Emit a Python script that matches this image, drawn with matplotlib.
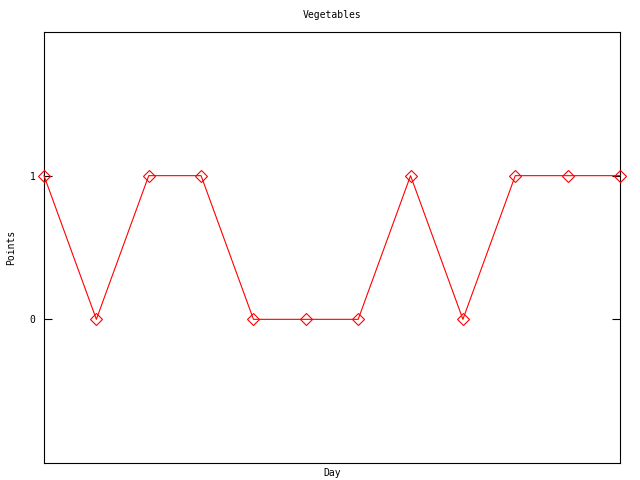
import matplotlib
matplotlib.use('Agg')
import matplotlib.pyplot as plt

# data
days = list(range(12))
points = [1, 0, 1, 1, 0, 0, 0, 1, 0, 1, 1, 1]
y_ticks = [0, 1]

plt.rcParams['font.family'] = 'DejaVu Sans Mono'

fig = plt.figure(figsize=(6.4, 4.8), dpi=100)
ax = fig.add_axes([44 / 640, 17 / 480, 576 / 640, 431 / 480])

ax.plot(days, points, color='red', linewidth=0.8, marker='D', markersize=6.5,
        markerfacecolor='none', markeredgecolor='red', markeredgewidth=0.8,
        clip_on=False, zorder=3)

ax.set_xlim(0, 11)
ax.set_ylim(-1, 2)
ax.set_xticks([])
ax.set_yticks(y_ticks)
ax.tick_params(axis='y', direction='in', length=6, width=0.8, labelsize=7,
               right=True, pad=6)
for s in ax.spines.values():
    s.set_linewidth(0.8)

fig.text(332 / 640, 1 - 15 / 480, 'Vegetables', ha='center', va='center', fontsize=7)
fig.text(332 / 640, 1 - 473 / 480, 'Day', ha='center', va='center', fontsize=7)
fig.text(11 / 640, 1 - 247 / 480, 'Points', ha='center', va='center', fontsize=7,
         rotation=90)

fig.savefig('out.png', dpi=100)
